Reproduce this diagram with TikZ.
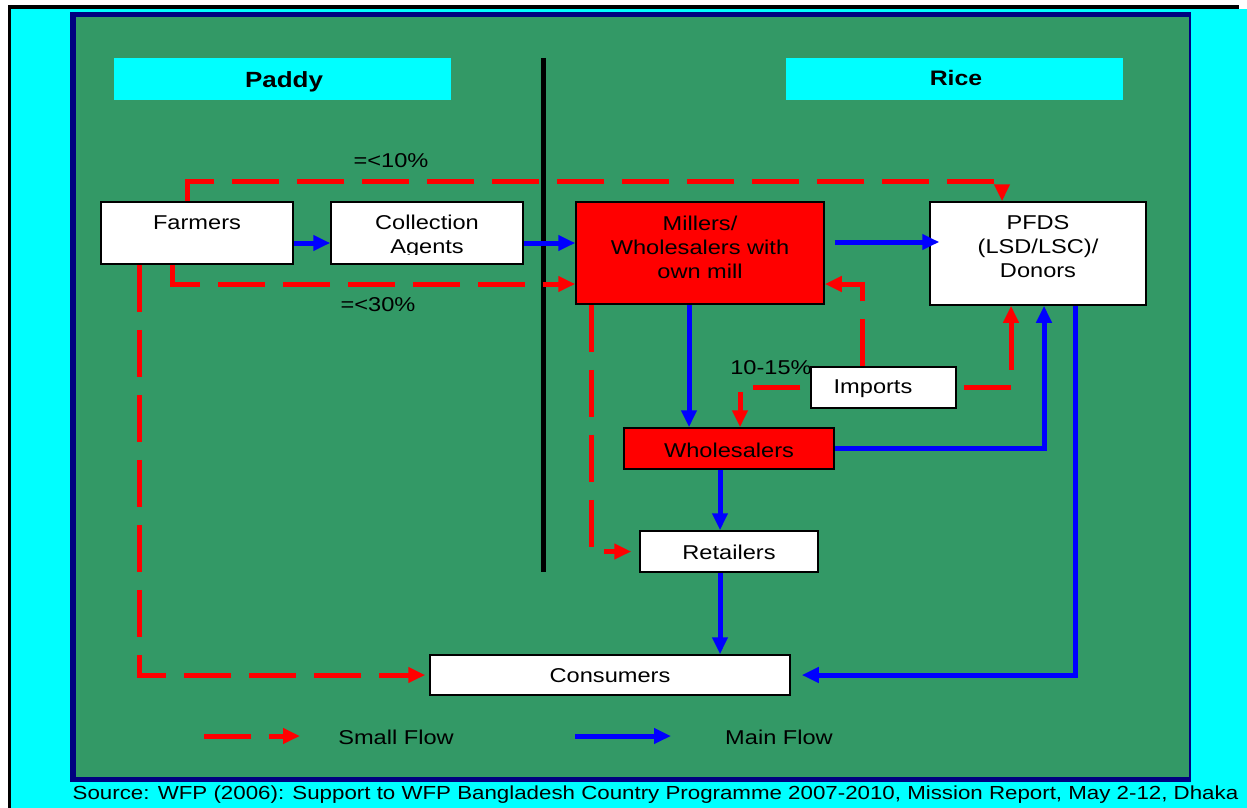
\documentclass[tikz,border=0pt]{standalone}
\usepackage{fontspec}
\setmainfont{Liberation Sans}[FakeStretch=1.18]
\usetikzlibrary{arrows.meta,calc}
\definecolor{bggreen}{HTML}{339966}
\definecolor{frameblue}{HTML}{000080}
\definecolor{flowblue}{HTML}{0000FF}
\definecolor{hdrcyan}{HTML}{00FFFF}
\newcommand{\fs}{\fontsize{20}{24}\selectfont}
\begin{document}
\begin{tikzpicture}[x=1pt,y=-1pt,
  box/.style={draw=black, line width=1.5pt, fill=white, inner sep=0pt},
  redbox/.style={box, fill=red},
  hdr/.style={fill=hdrcyan, inner sep=0pt, minimum width=337pt, minimum height=42pt},
  lbl/.style={inner sep=0pt, font=\fs, align=center, text=black},
  main/.style={draw=flowblue, line width=5pt, -{Triangle[length=17pt,width=15pt]}},
  small/.style={draw=red, line width=5pt, dash pattern=on 47pt off 18pt, -{Triangle[length=17pt,width=15pt]}}
]
\useasboundingbox (0,0) rectangle (1247,808);
% background and frames
\fill[white] (0,0) rectangle (1247,808);
\fill[hdrcyan] (11,9) rectangle (1247,808);
\fill[black] (8,5) rectangle (1239,9);
\fill[black] (8,5) rectangle (11,808);
\fill[frameblue] (70,12) rectangle (1191,782);
\fill[bggreen] (76,17) rectangle (1189,777);

% headers
\node[hdr] (paddy) at (282.5,79) {};
\node[lbl, font=\fontsize{22}{26}\selectfont\bfseries] (paddyT) at (284,82) {Paddy};
\node[hdr] (rice) at (954.5,79) {};
\node[lbl, font=\fontsize{21}{25}\selectfont\bfseries] (riceT) at (956,78) {Rice};

% divider
\draw[black, line width=5pt] (543,58) -- (543,572);

% boxes
\node[box, minimum width=192pt, minimum height=62pt] (farm) at (197,233) {};
\node[lbl] (farmT) at (197,223) {Farmers};
\node[box, minimum width=192pt, minimum height=62pt] (coll) at (427,233) {};
\begin{scope}
  \clip (coll.north west) rectangle ([yshift=10pt]coll.south east);
  \node[lbl] (collT) at (427,236) {Collection\\Agents};
\end{scope}
\node[redbox, minimum width=248pt, minimum height=102pt] (mill) at (700,253) {};
\node[lbl] (millT) at (700,247) {Millers/\\Wholesalers with\\own mill};
\node[box, minimum width=216pt, minimum height=103pt] (pfds) at (1038,253.5) {};
\node[lbl] (pfdsT) at (1038,247) {PFDS\\(LSD/LSC)/\\Donors};
\node[box, minimum width=145pt, minimum height=41pt] (imp) at (883.5,387.5) {};
\node[lbl] (impT) at (873,389) {Imports};
\node[redbox, minimum width=210pt, minimum height=41pt] (whl) at (729,448.5) {};
\node[lbl] (whlT) at (729,450) {Wholesalers};
\node[box, minimum width=178pt, minimum height=41pt] (ret) at (729,551.5) {};
\node[lbl] (retT) at (729,552) {Retailers};
\node[box, minimum width=360pt, minimum height=40pt] (cons) at (610,675) {};
\node[lbl] (consT) at (610,676) {Consumers};

% labels
\node[lbl] (l10) at (391,161) {=<10\%};
\node[lbl] (l30) at (378,305) {=<30\%};
\node[lbl] (l1015) at (771,368) {10-15\%};

% main flows
\draw[main] ([yshift=-10pt]farm.east) -- ([yshift=-10pt]coll.west);
\draw[main] ([yshift=-10pt]coll.east) -- ([yshift=-10pt]coll.east -| mill.west);
\draw[main] ([xshift=10pt,yshift=11pt]mill.east) -- ([xshift=10pt,yshift=11pt]mill.east -| pfds.west);
\draw[main] ([xshift=-11pt]mill.south) -- ([xshift=-11pt]mill.south |- whl.north);
\draw[main] ([xshift=-9pt]whl.south) -- ([xshift=-9pt]ret.north);
\draw[main] ([xshift=-9pt]ret.south) -- ([xshift=-9pt]ret.south |- cons.north);
\draw[main] (whl.east) -| ([xshift=6pt]pfds.south);
\draw[main] ([xshift=37pt]pfds.south) |- ([xshift=11pt]cons.east);

% small flows
\draw[small] ([xshift=-10pt]farm.north) -- ++(0,-20) -| ([xshift=-36pt]pfds.north);
\draw[small] ([xshift=-25pt]farm.south) |- ([yshift=-31pt]mill.west);
\draw[small, shorten >=4pt] ([xshift=-58pt]farm.south) |- (cons.west);
\draw[small, shorten >=8pt] ([xshift=-109pt]mill.south) |- (ret.west);
\draw[small] ([xshift=-21.5pt]imp.north) |- ([yshift=-31pt]mill.east);
\draw[small] ([xshift=-10pt]imp.west) -| ([xshift=11pt]whl.north);
\draw[small] ([xshift=7pt]imp.east) -| ([xshift=-27pt]pfds.south);

% legend
\coordinate (ls1) at (204,736);
\coordinate (ls2) at (300,736);
\coordinate (lm1) at (575,736);
\coordinate (lm2) at (671,736);
\draw[small] (ls1) -- (ls2);
\draw[main] (lm1) -- (lm2);
\node[lbl] (smallT) at (396,737) {Small Flow};
\node[lbl] (mainT) at (779,737) {Main Flow};

% source
\node[lbl, font=\fontsize{18.9}{23}\selectfont] (src) at (655.5,795) {Source: WFP (2006): Support to WFP Bangladesh Country Programme 2007-2010, Mission Report, May 2-12, Dhaka};
\end{tikzpicture}
\end{document}
